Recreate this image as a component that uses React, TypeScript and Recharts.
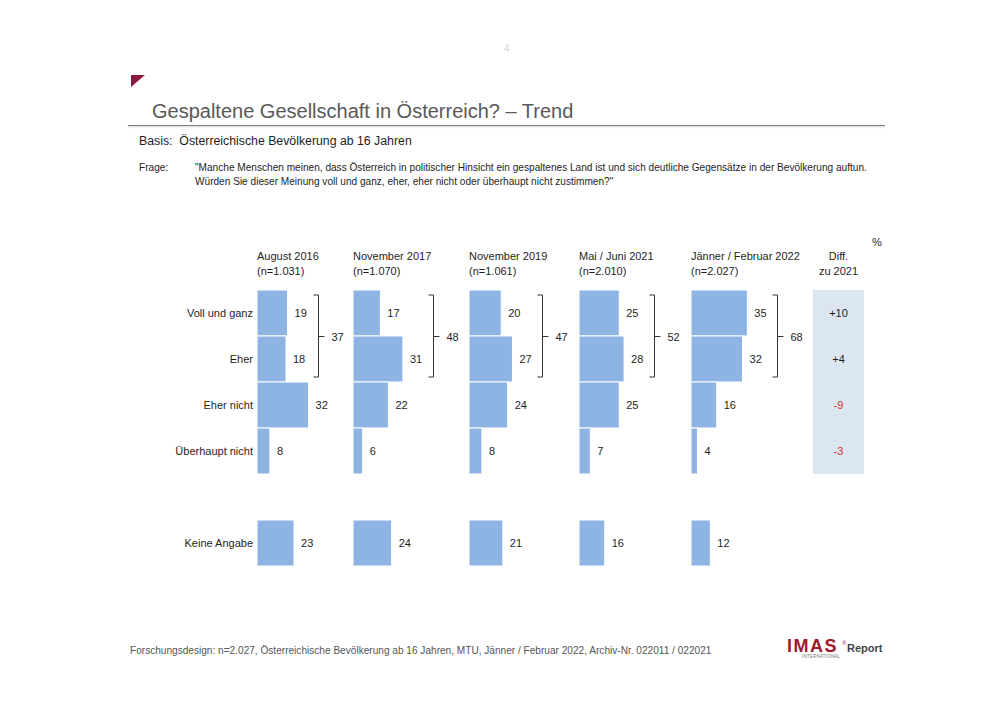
import React from 'react';
import { ComposedChart, Bar, XAxis, YAxis, LabelList, ReferenceArea } from 'recharts';

// ---------- data ----------
const categories = ['Voll und ganz', 'Eher', 'Eher nicht', 'Überhaupt nicht', '', 'Keine Angabe'];
const waves = ['August 2016', 'November 2017', 'November 2019', 'Mai / Juni 2021', 'Jänner / Februar 2022'];
const sampleSizes = ['(n=1.031)', '(n=1.070)', '(n=1.061)', '(n=2.010)', '(n=2.027)'];
const aug2016 = [19, 18, 32, 8, null, 23];
const nov2017 = [17, 31, 22, 6, null, 24];
const nov2019 = [20, 27, 24, 8, null, 21];
const mai2021 = [25, 28, 25, 7, null, 16];
const jan2022 = [35, 32, 16, 4, null, 12];
const diff2021 = [10, 4, -9, -3, null, null];
const netAgreement = [37, 48, 47, 52, 68];

const seriesList = [aug2016, nov2017, nov2019, mai2021, jan2022];
const data = categories.map((cat, i) => {
  const row: any = { cat, diff: diff2021[i] };
  seriesList.forEach((s, k) => {
    row['g' + k] = s[i];
  });
  return row;
});

// ---------- layout ----------
const FONT = "'Liberation Sans', Arial, Helvetica, sans-serif";
const CHART_LEFT = 150;
const CHART_TOP = 280;
const AXIS_W = 107;
const PLOT_W = 623;
const PLOT_H = 276;
const MARGIN_TOP = 10;
const PX_PER_UNIT = 1.61;
const GROUP_OFFSETS = [0, 96, 212, 322, 434];
const DIFF_CENTER = 581.5;
const DIFF_HALF = 25.5;
const DIFF_K = 1000;
const BAR_COLOR = '#8DB4E2';
const DIFF_BG = '#DCE6F1';
const TEXT = '#1e1e1e';

const makeShape = (k: number) => (props: any) => {
  const { x, y, width, height, payload } = props;
  if (x == null || width == null || payload == null) return <g />;
  const key = 'g' + k;
  const v = payload[key];
  if (v == null) return <g />;
  const els: any[] = [
    <rect key="r" x={x} y={y} width={width} height={height} fill={BAR_COLOR} stroke="#ffffff" strokeWidth={1} />,
  ];
  if (payload.cat === categories[0] && v) {
    const v1 = data[1][key];
    const ratio = width / v;
    const bx = Math.round(x + Math.max(v, v1) * ratio + 30) + 0.5;
    const top = y + 5;
    const bottom = y + 2 * height - 5;
    const mid = Math.round(y + height) + 0.5;
    els.push(
      <path
        key="b"
        d={`M${bx - 5},${top}H${bx}V${bottom}H${bx - 5}M${bx},${mid}H${bx + 6}`}
        stroke="#333"
        fill="none"
        strokeWidth={1}
      />
    );
    els.push(
      <text key="t" x={bx + 13} y={mid} dominantBaseline="central" fontSize={11} fill={TEXT} fontFamily={FONT}>
        {netAgreement[k]}
      </text>
    );
  }
  return <g>{els}</g>;
};

const valueLabel = (props: any) => {
  const { value } = props;
  if (value == null || value === '') return null;
  const vb = props.viewBox || props;
  const { x, y, width, height } = vb;
  return (
    <text x={x + width + 7} y={y + height / 2} dominantBaseline="central" fontSize={11} fill={TEXT} fontFamily={FONT}>
      {value}
    </text>
  );
};

const diffLabel = (props: any) => {
  const { value } = props;
  if (value == null || value === '') return null;
  const vb = props.viewBox || props;
  const cx = vb.x + (vb.width || 0) / 2;
  return (
    <text
      x={cx}
      y={vb.y + vb.height / 2}
      textAnchor="middle"
      dominantBaseline="central"
      fontSize={11}
      fill={value < 0 ? '#E0302E' : TEXT}
      fontFamily={FONT}
    >
      {value > 0 ? `+${value}` : `${value}`}
    </text>
  );
};

const abs = (left: number, top: number, extra: any = {}): any => ({
  position: 'absolute',
  left,
  top,
  whiteSpace: 'nowrap',
  ...extra,
});

export default function App() {
  const plotLeft = CHART_LEFT + AXIS_W;
  return (
    <div
      style={{
        position: 'absolute',
        left: 0,
        top: 0,
        width: 1000,
        height: 707,
        background: '#ffffff',
        fontFamily: FONT,
        color: TEXT,
        overflow: 'hidden',
      }}
    >
      {/* page number */}
      <div style={abs(504, 42, { fontSize: 10, color: '#d8d8d8', lineHeight: '14px' })}>4</div>

      {/* red triangle */}
      <svg style={abs(131, 75)} width={15} height={13}>
        <polygon points="0,0 14,0 0,12" fill="#8B1A3B" />
      </svg>

      {/* title */}
      <div style={abs(152, 98, { fontSize: 20, color: '#595959', lineHeight: '26px' })}>
        Gespaltene Gesellschaft in Österreich? – Trend
      </div>
      <div
        style={abs(128, 125, {
          width: 757,
          height: 1,
          background: '#7f7f7f',
          boxShadow: '0 1px 2px rgba(0,0,0,0.25)',
        })}
      />

      {/* basis */}
      <div style={abs(139, 133, { fontSize: 12.3, lineHeight: '16px' })}>Basis:&nbsp; Österreichische Bevölkerung ab 16 Jahren</div>

      {/* question */}
      <div style={abs(139, 161, { fontSize: 10.1, lineHeight: '14px' })}>Frage:</div>
      <div style={abs(195, 161, { fontSize: 10.1, lineHeight: '13.5px' })}>
        "Manche Menschen meinen, dass Österreich in politischer Hinsicht ein gespaltenes Land ist und sich deutliche Gegensätze in der Bevölkerung auftun.
        <br />
        Würden Sie dieser Meinung voll und ganz, eher, eher nicht oder überhaupt nicht zustimmen?"
      </div>

      {/* % */}
      <div style={abs(872, 234, { fontSize: 11, lineHeight: '16px' })}>%</div>

      {/* wave headers */}
      {waves.map((w, k) => (
        <div key={w} style={abs(plotLeft + GROUP_OFFSETS[k], 248.5, { fontSize: 11, lineHeight: '15px' })}>
          {w}
          <br />
          {sampleSizes[k]}
        </div>
      ))}
      <div
        style={abs(plotLeft + DIFF_CENTER - 40, 248.5, {
          width: 80,
          textAlign: 'center',
          fontSize: 11,
          lineHeight: '15px',
        })}
      >
        Diff.
        <br />
        zu 2021
      </div>

      {/* chart */}
      <div style={abs(CHART_LEFT, CHART_TOP)}>
        <ComposedChart
          layout="vertical"
          width={AXIS_W + PLOT_W}
          height={MARGIN_TOP + PLOT_H + 4}
          data={data}
          margin={{ top: MARGIN_TOP, right: 0, bottom: 4, left: 0 }}
          barCategoryGap={0}
          barGap={0}
        >
          {seriesList.map((_, k) => (
            <XAxis
              key={'x' + k}
              xAxisId={'x' + k}
              type="number"
              domain={[-GROUP_OFFSETS[k] / PX_PER_UNIT, (PLOT_W - GROUP_OFFSETS[k]) / PX_PER_UNIT]}
              allowDataOverflow
              hide
            />
          ))}
          <XAxis
            xAxisId="xd"
            type="number"
            domain={[-DIFF_CENTER * DIFF_K, (PLOT_W - DIFF_CENTER) * DIFF_K]}
            allowDataOverflow
            hide
          />
          <YAxis
            yAxisId="y0"
            type="category"
            dataKey="cat"
            width={AXIS_W}
            tickLine={false}
            axisLine={false}
            tickSize={2}
            tickMargin={2}
            interval={0}
            tick={{ fontSize: 11, fill: TEXT, fontFamily: FONT }}
          />
          {seriesList.slice(1).map((_, i) => (
            <YAxis key={'y' + (i + 1)} yAxisId={'y' + (i + 1)} type="category" dataKey="cat" hide />
          ))}
          <YAxis yAxisId="yd" type="category" dataKey="cat" hide />
          <ReferenceArea
            xAxisId="xd"
            yAxisId="yd"
            x1={-DIFF_HALF * DIFF_K}
            x2={DIFF_HALF * DIFF_K}
            y1={categories[0]}
            y2={categories[3]}
            fill={DIFF_BG}
            fillOpacity={1}
            stroke="none"
            ifOverflow="visible"
          />
          {seriesList.map((_, k) => (
            <Bar
              key={'b' + k}
              xAxisId={'x' + k}
              yAxisId={'y' + k}
              dataKey={'g' + k}
              fill={BAR_COLOR}
              shape={makeShape(k)}
              isAnimationActive={false}
            >
              <LabelList dataKey={'g' + k} content={valueLabel} />
            </Bar>
          ))}
          <Bar xAxisId="xd" yAxisId="yd" dataKey="diff" fill="transparent" isAnimationActive={false}>
            <LabelList dataKey="diff" content={diffLabel} />
          </Bar>
        </ComposedChart>
      </div>

      {/* footer */}
      <div style={abs(130, 644, { fontSize: 10.1, color: '#555', lineHeight: '14px' })}>
        Forschungsdesign: n=2.027, Österreichische Bevölkerung ab 16 Jahren, MTU, Jänner / Februar 2022, Archiv-Nr. 022011 / 022021
      </div>

      {/* logo */}
      <div style={abs(787, 636, { fontSize: 18, fontWeight: 900, color: '#A01830', lineHeight: '20px', letterSpacing: 1.5 })}>
        IMAS
      </div>
      <div style={abs(842, 639, { fontSize: 6, color: '#A01830', lineHeight: '8px' })}>®</div>
      <div style={abs(847, 642, { fontSize: 11, fontWeight: 700, color: '#444', lineHeight: '13px' })}>Report</div>
      <div style={abs(802, 654, { fontSize: 4.5, color: '#777', lineHeight: '6px', letterSpacing: 0.2 })}>INTERNATIONAL</div>
    </div>
  );
}
